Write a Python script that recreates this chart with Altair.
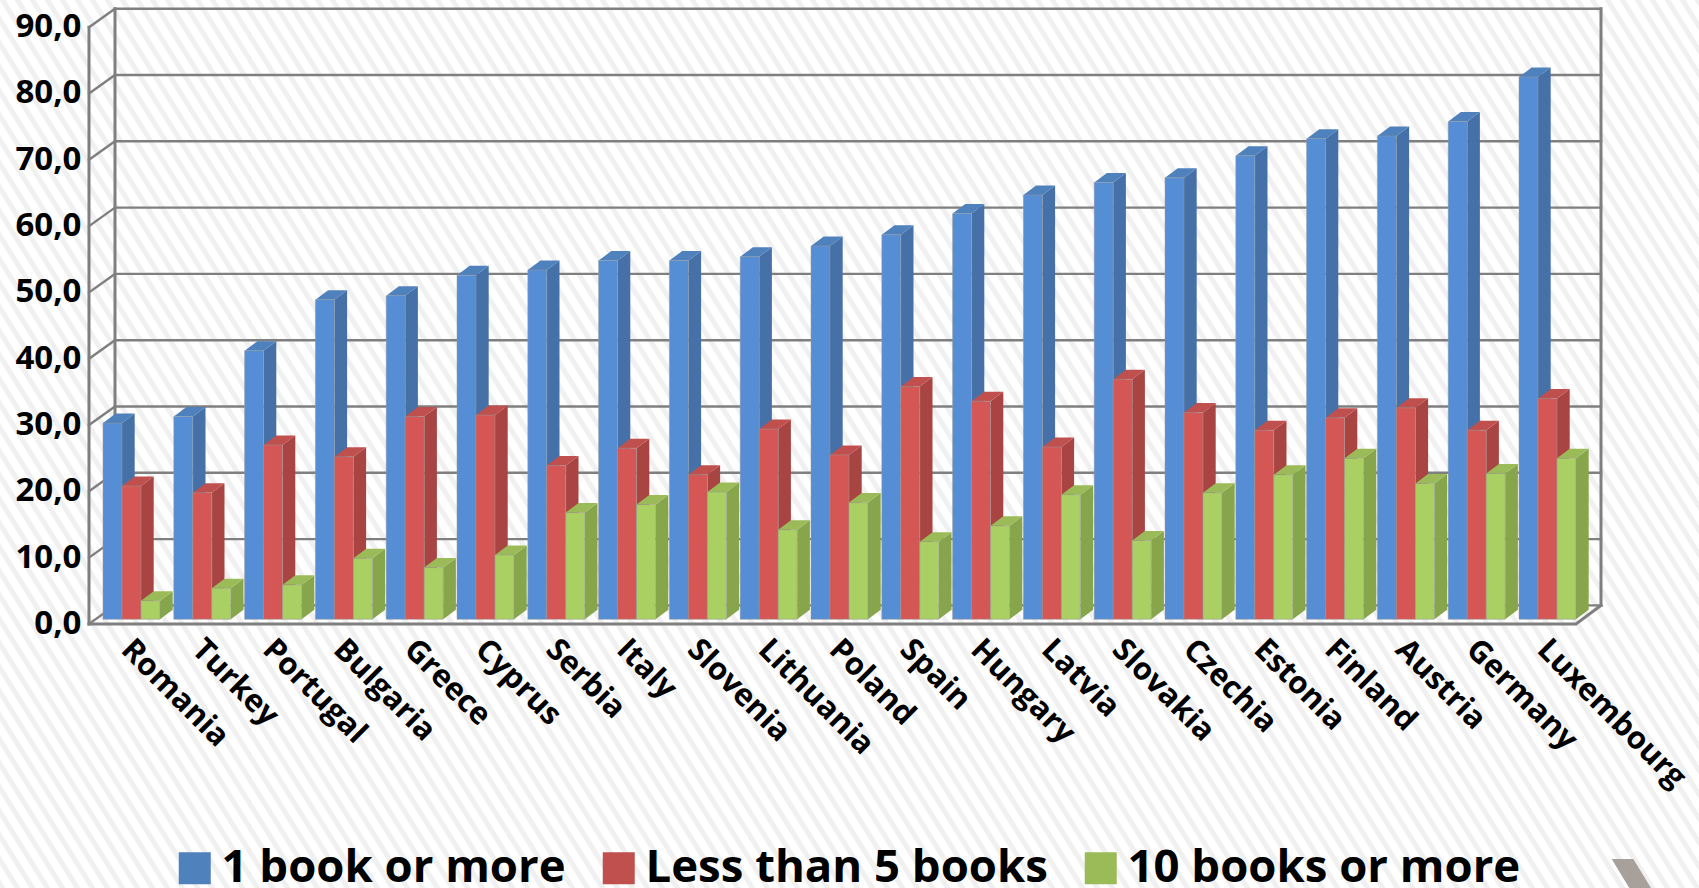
import altair as alt
import pandas as pd

FONT = "Open Sans"

countries = ["Romania", "Turkey", "Portugal", "Bulgaria", "Greece", "Cyprus", "Serbia",
             "Italy", "Slovenia", "Lithuania", "Poland", "Spain", "Hungary", "Latvia",
             "Slovakia", "Czechia", "Estonia", "Finland", "Austria", "Germany", "Luxembourg"]
one_or_more = [29.6, 30.6, 40.5, 48.2, 48.8, 51.9, 52.7, 54.1, 54.1, 54.7, 56.3,
               58.0, 61.2, 64.0, 65.9, 66.6, 69.9, 72.5, 72.9, 75.1, 81.8]
less_than_5 = [20.1, 19.1, 26.3, 24.5, 30.6, 30.8, 23.2, 25.8, 21.8, 28.7, 24.8,
               35.1, 32.9, 26.0, 36.2, 31.2, 28.5, 30.4, 31.9, 28.5, 33.3]
ten_or_more = [2.8, 4.7, 5.2, 9.2, 7.8, 9.7, 16.1, 17.3, 19.2, 13.5, 17.6,
               11.7, 14.1, 18.8, 11.9, 19.1, 21.8, 24.3, 20.5, 22.0, 24.3]

series_names = ["1 book or more", "Less than 5 books", "10 books or more"]
series_values = [one_or_more, less_than_5, ten_or_more]
front_colors = ["#558ed5", "#d45755", "#aacf62"]
side_colors = ["#4571a8", "#a84442", "#87a64c"]
top_colors = ["#4f81bd", "#c0504d", "#9bbb59"]

# Canvas and scale set-up: one x unit is a category slot, one y unit is one percent.
W, H = 1699, 888
SLOT_PX, VALUE_PX, X0_PX, Y0_PX = 70.8, 6.63, 103.0, 619.3
x_scale = alt.Scale(domain=[-X0_PX / SLOT_PX, (W - X0_PX) / SLOT_PX], nice=False, zero=False)
y_scale = alt.Scale(domain=[(Y0_PX - H) / VALUE_PX, Y0_PX / VALUE_PX], nice=False, zero=False)


def ux(px):
    return (px - X0_PX) / SLOT_PX


def uy(px):
    return (Y0_PX - px) / VALUE_PX


BAR_W = 19.0 / SLOT_PX
DEPTH_X = 12.7 / SLOT_PX
DEPTH_Y = 9.5 / VALUE_PX

# The value axis sits inside the canvas, just left of the chart box
y_axis = alt.Axis(
    values=list(range(0, 100, 10)), title=None, domain=False, ticks=False, grid=False,
    orient="left", offset=-81, labelPadding=0, labelFontSize=33, labelFont=FONT,
    labelFontWeight="bold", labelColor="#000000", labelOffset=4, zindex=1,
    labelExpr="replace(format(datum.value, '.1f'), '.', ',')")

# Quantitative encodings shared by every layer
X = alt.X("x:Q", scale=x_scale, axis=None)
Y = alt.Y("y:Q", scale=y_scale, axis=y_axis)
X2 = alt.X2("x2:Q")
Y2 = alt.Y2("y2:Q")

# Diagonal hatch behind the whole chart
hatch = pd.DataFrame([
    {"x": ux(p), "x2": ux(p + 600), "y": uy(-20), "y2": uy(-20 + 960)}
    for p in range(-640, 1720, 15)
])
hatch_layer = alt.Chart(hatch).mark_rule(color="#f0f0f0", strokeWidth=5).encode(
    x=X, x2=X2, y=Y, y2=Y2)

# Chart box: back wall, left wall and floor
WALL_LEFT_FRONT, WALL_LEFT_BACK, WALL_RIGHT_BACK, FLOOR_RIGHT_FRONT = ux(89), ux(115), ux(1601), ux(1576)
FRONT_SHIFT, BACK_SHIFT = -0.7, 2.1
frame = []
for k in range(0, 100, 10):
    frame.append({"id": f"d{k}", "x": WALL_LEFT_FRONT, "y": k + FRONT_SHIFT, "w": "thin"})
    frame.append({"id": f"d{k}", "x": WALL_LEFT_BACK, "y": k + BACK_SHIFT, "w": "thin"})
    frame.append({"id": f"g{k}", "x": WALL_LEFT_BACK, "y": k + BACK_SHIFT, "w": "thin"})
    frame.append({"id": f"g{k}", "x": WALL_RIGHT_BACK, "y": k + BACK_SHIFT, "w": "thin"})
for ident, pts in {
    "front_left": [(WALL_LEFT_FRONT, FRONT_SHIFT), (WALL_LEFT_FRONT, 90 + FRONT_SHIFT)],
    "back_left": [(WALL_LEFT_BACK, BACK_SHIFT), (WALL_LEFT_BACK, 90 + BACK_SHIFT)],
    "right": [(WALL_RIGHT_BACK, BACK_SHIFT), (WALL_RIGHT_BACK, 90 + BACK_SHIFT)],
    "floor": [(WALL_LEFT_FRONT, FRONT_SHIFT), (FLOOR_RIGHT_FRONT, FRONT_SHIFT), (WALL_RIGHT_BACK, BACK_SHIFT)],
}.items():
    for px_, py_ in pts:
        frame.append({"id": ident, "x": px_, "y": py_, "w": "thick"})
frame_df = pd.DataFrame(frame)
frame_df["order"] = frame_df.groupby("id").cumcount()


def frame_layer(kind, width):
    return alt.Chart(frame_df[frame_df.w == kind]).mark_line(
        color="#7f7f7f", strokeWidth=width, strokeCap="square", strokeJoin="miter"
    ).encode(x=X, y=Y, detail="id:N", order="order:Q")


def bar_layers(s):
    """Side, top and front faces of one series' extruded bars."""
    name, values = series_names[s], series_values[s]
    side, top, front = [], [], []
    for i, (country, v) in enumerate(zip(countries, values)):
        left = i + s * BAR_W
        right = left + BAR_W
        front.append({"x": left, "x2": right, "y": 0.0, "y2": v, "series": name})
        side.append({"face": country, "x": right, "y": 0.0, "y2": v})
        side.append({"face": country, "x": right + DEPTH_X, "y": DEPTH_Y, "y2": v + DEPTH_Y})
        top.extend([
            {"face": country, "x": left, "y": v, "y2": v, "series": name},
            {"face": country, "x": left + DEPTH_X, "y": v, "y2": v + DEPTH_Y, "series": name},
            {"face": country, "x": right, "y": v, "y2": v + DEPTH_Y, "series": name},
            {"face": country, "x": right + DEPTH_X, "y": v + DEPTH_Y, "y2": v + DEPTH_Y, "series": name},
        ])
    side_l = alt.Chart(pd.DataFrame(side)).mark_area(color=side_colors[s]).encode(
        x=X, y=Y, y2=Y2, detail="face:N")
    top_l = alt.Chart(pd.DataFrame(top)).mark_area().encode(
        x=X, y=Y, y2=Y2, detail="face:N",
        color=alt.Color("series:N", scale=alt.Scale(domain=series_names, range=top_colors),
                        sort=series_names,
                        legend=alt.Legend(
                            title=None, orient="none", legendX=172, legendY=845, direction="horizontal",
                            columns=3, symbolType="square", symbolSize=1024, symbolStrokeWidth=0,
                            labelFont=FONT, labelFontWeight="bold", labelFontSize=45.5, labelColor="#000000",
                            labelLimit=0, labelOffset=4, columnPadding=30, symbolOpacity=1)))
    front_l = alt.Chart(pd.DataFrame(front)).mark_rect(
        color=front_colors[s], stroke="#9a9a9a", strokeOpacity=0.5, strokeWidth=1
    ).encode(x=X, x2=X2, y=Y, y2=Y2)
    return [side_l, top_l, front_l]


# Rotated category labels under each group of bars
labels = pd.DataFrame({"x": [i + ux(126) for i in range(len(countries))],
                       "y": [uy(645)] * len(countries),
                       "label": countries})
label_layer = alt.Chart(labels).mark_text(
    angle=45, align="left", baseline="middle", font=FONT, fontWeight="bold", fontSize=31, color="#000000"
).encode(x=X, y=Y, text="label:N")

# Slanted grey slide ornament in the lower right corner
ornament = pd.DataFrame({"x": [ux(1611.7), ux(1629.3), ux(1633.3), ux(1651)],
                         "y": [uy(859), uy(888), uy(888), uy(888)],
                         "y2": [uy(859), uy(859), uy(859), uy(888)]})
ornament_layer = alt.Chart(ornament).mark_area(color="#a8a09b").encode(x=X, y=Y, y2=Y2)

layers = [hatch_layer, ornament_layer, frame_layer("thin", 2.4), frame_layer("thick", 3)]
for s in range(3):
    layers.extend(bar_layers(s))
layers.append(label_layer)

chart = alt.layer(*layers).properties(
    width=W, height=H, padding=0, background="#ffffff",
    autosize=alt.AutoSizeParams(type="none"),
).configure_view(stroke=None)

chart.save("out.html", embed_options={"renderer": "svg", "actions": False})
